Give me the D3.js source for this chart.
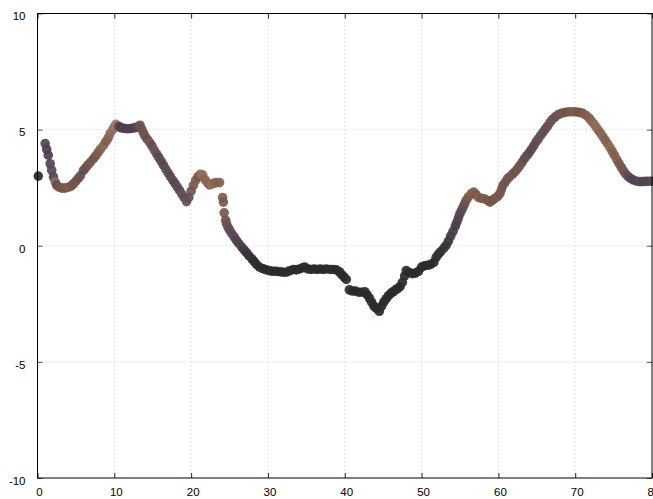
<!DOCTYPE html>
<html>
<head>
<meta charset="utf-8">
<script src="https://cdn.jsdelivr.net/npm/d3@7"></script>
<style>
  html, body { margin: 0; padding: 0; background: #fff; }
  svg { display: block; }
  .tick text { font-family: "Liberation Sans", Arial, Helvetica, sans-serif; font-size: 11.5px; fill: #000; }
</style>
</head>
<body>
<svg id="chart" width="653" height="499"></svg>
<script>
// Axis ranges and tick labels
const xTicks = [0, 10, 20, 30, 40, 50, 60, 70, 80];
const yTicks = [-10, -5, 0, 5, 10];

// Trajectory samples: position and a shade value per point
const xs = [
  0.1,
  1.0, 1.2, 1.4, 1.65, 1.85, 2.08, 2.3, 2.5, 2.8, 3.17, 3.5, 3.8, 4.1, 4.4, 4.7,
  5.0, 5.3, 5.6, 6.0, 6.3, 6.6, 6.9, 7.3, 7.6, 7.9, 8.2, 8.6, 8.9, 9.2, 9.45, 9.8, 10.0, 10.2,
  10.6, 10.9, 11.2, 11.6, 11.9, 12.2, 12.5, 12.8, 13.1, 13.35,
  13.6, 13.8, 14.0, 14.3, 14.6, 14.9, 15.2, 15.5, 15.8, 16.1, 16.4, 16.7, 17.0, 17.3, 17.6, 17.9, 18.2, 18.5, 18.8, 19.1, 19.4,
  19.7, 20.0, 20.3, 20.6, 20.9, 21.2, 21.5, 21.8, 22.1, 22.4, 22.7, 23.0, 23.3, 23.7,
  24.1, 24.2, 24.3, 24.5, 24.6, 24.8, 25.0, 25.3, 25.6, 25.9, 26.2, 26.6, 26.9, 27.2, 27.5, 27.9, 28.2, 28.5,
  28.9, 29.4, 29.8, 30.3, 30.7, 31.1, 31.6, 32.0, 32.4, 32.8, 33.3, 33.7, 34.1, 34.5, 34.8, 35.2, 35.6, 36.0, 36.4, 36.8, 37.2, 37.6, 38.1, 38.5, 38.9, 39.3, 39.6, 39.9, 40.2,
  40.6, 41.0, 41.4, 41.8, 42.2, 42.6, 42.9, 43.2, 43.5, 43.8, 44.1, 44.5, 44.8, 45.1, 45.4, 45.7, 46.0, 46.3, 46.6, 46.9, 47.2, 47.5, 47.8, 48.0,
  48.4, 48.8, 49.2, 49.6, 50.0, 50.4, 50.8, 51.2, 51.6, 51.9, 52.2, 52.5, 52.9, 53.2, 53.5, 53.8, 54.1, 54.4, 54.6, 54.8, 55.0, 55.2, 55.4, 55.6, 55.8, 56.1, 56.5, 56.8,
  57.1, 57.4, 57.8, 58.2, 58.6, 58.9, 59.2, 59.5, 59.9, 60.2, 60.4, 60.6, 60.9, 61.2, 61.5, 61.9, 62.2, 62.5, 62.8, 63.1, 63.4, 63.7, 64.0, 64.3, 64.6, 64.9, 65.2, 65.5, 65.8, 66.1, 66.4, 66.7, 67.0, 67.4, 67.8,
  68.2, 68.6, 69.0, 69.4, 69.8, 70.2, 70.6, 71.0, 71.4, 71.8, 72.1, 72.4, 72.7, 73.0, 73.3, 73.6, 73.9, 74.2, 74.5, 74.8, 75.1, 75.4, 75.7, 76.0, 76.3, 76.6, 76.9, 77.2, 77.6, 78.0, 78.4, 78.8, 79.2, 79.6, 80.0
];
const ys = [
  3.0,
  4.4, 4.15, 3.9, 3.53, 3.25, 2.96, 2.75, 2.6, 2.52, 2.48, 2.48, 2.5, 2.53, 2.58, 2.67,
  2.78, 2.9, 3.02, 3.25, 3.37, 3.49, 3.6, 3.75, 3.88, 4.02, 4.16, 4.32, 4.48, 4.64, 4.83, 5.0, 5.12, 5.23,
  5.14, 5.08, 5.06, 5.04, 5.04, 5.05, 5.07, 5.09, 5.13, 5.19,
  5.0, 4.85, 4.72, 4.58, 4.45, 4.3, 4.12, 3.96, 3.8, 3.64, 3.47, 3.3, 3.14, 2.98, 2.83, 2.68, 2.53, 2.38, 2.22, 2.07, 1.9,
  2.08, 2.35, 2.6, 2.82, 2.98, 3.08, 3.05, 2.85, 2.72, 2.62, 2.65, 2.7, 2.72, 2.72,
  2.08, 1.88, 1.42, 1.1, 0.95, 0.8, 0.68, 0.52, 0.38, 0.23, 0.1, -0.06, -0.18, -0.3, -0.42, -0.56, -0.68, -0.8,
  -0.92, -0.99, -1.04, -1.08, -1.1, -1.1, -1.12, -1.14, -1.14, -1.08, -1.02, -1.04, -1.0, -0.95, -0.92, -1.0, -1.02, -1.0, -1.02, -1.0, -1.02, -1.0, -1.02, -1.02, -1.04, -1.12, -1.24, -1.34, -1.45,
  -1.9, -1.95, -1.95, -2.0, -2.0, -1.98, -2.1, -2.25, -2.43, -2.6, -2.7, -2.82, -2.6, -2.42, -2.28, -2.15, -2.05, -1.98, -1.9, -1.84, -1.76, -1.58, -1.3, -1.07,
  -1.15, -1.2, -1.18, -1.1, -0.92, -0.86, -0.84, -0.8, -0.72, -0.5, -0.36, -0.25, -0.1, 0.02, 0.2, 0.42, 0.62, 0.85, 1.02, 1.2, 1.38, 1.52, 1.66, 1.8, 1.95, 2.1, 2.25, 2.31,
  2.2, 2.08, 2.04, 2.02, 1.95, 1.88, 1.95, 2.03, 2.12, 2.24, 2.42, 2.6, 2.74, 2.89, 2.98, 3.1, 3.2, 3.32, 3.45, 3.6, 3.75, 3.88, 4.0, 4.15, 4.3, 4.47, 4.6, 4.75, 4.88, 5.02, 5.15, 5.3, 5.43, 5.55, 5.65,
  5.7, 5.74, 5.76, 5.77, 5.77, 5.76, 5.74, 5.7, 5.62, 5.5, 5.38, 5.26, 5.12, 4.98, 4.85, 4.7, 4.55, 4.4, 4.25, 4.08, 3.9, 3.72, 3.55, 3.38, 3.22, 3.08, 2.98, 2.9, 2.83, 2.78, 2.76, 2.76, 2.77, 2.78, 2.78
];
const shade = [
  0.02,
  0.5, 0.45, 0.45, 0.5, 0.55, 0.5, 0.85, 0.6, 0.7, 0.72, 0.75, 0.72, 0.8, 0.75, 0.7,
  0.72, 0.68, 0.65, 0.6, 0.65, 0.7, 0.75, 0.7, 0.72, 0.78, 0.8, 0.85, 0.78, 0.8, 0.85, 0.88, 0.92, 0.95,
  0.5, 0.45, 0.48, 0.45, 0.5, 0.48, 0.45, 0.5, 0.55, 0.7,
  0.65, 0.7, 0.72, 0.62, 0.75, 0.58, 0.68, 0.65, 0.55, 0.58, 0.52, 0.58, 0.6, 0.55, 0.6, 0.52, 0.6, 0.55, 0.65, 0.6, 0.65,
  0.62, 0.7, 0.75, 0.78, 0.72, 0.85, 0.9, 0.82, 0.85, 0.8, 0.88, 0.85, 0.82, 0.8,
  0.78, 0.75, 0.74, 0.7, 0.68, 0.65, 0.6, 0.58, 0.55, 0.5, 0.48, 0.45, 0.4, 0.35, 0.3, 0.2, 0.12, 0.08,
  0.05, 0.03, 0.02, 0.02, 0.03, 0.02, 0.03, 0.02, 0.03, 0.04, 0.03, 0.02, 0.03, 0.04, 0.03, 0.02, 0.03, 0.02, 0.03, 0.04, 0.03, 0.02, 0.03, 0.04, 0.03, 0.02, 0.03, 0.04, 0.05,
  0.03, 0.04, 0.03, 0.02, 0.04, 0.03, 0.02, 0.03, 0.04, 0.03, 0.02, 0.03, 0.04, 0.03, 0.02, 0.04, 0.03, 0.03, 0.02, 0.04, 0.03, 0.02, 0.03, 0.04,
  0.03, 0.02, 0.03, 0.04, 0.03, 0.05, 0.04, 0.06, 0.08, 0.1, 0.15, 0.2, 0.25, 0.3, 0.35, 0.38, 0.4, 0.42, 0.45, 0.48, 0.5, 0.55, 0.6, 0.65, 0.7, 0.75, 0.78, 0.8,
  0.75, 0.8, 0.75, 0.78, 0.72, 0.75, 0.7, 0.72, 0.75, 0.7, 0.72, 0.7, 0.68, 0.7, 0.72, 0.7, 0.68, 0.72, 0.7, 0.65, 0.6, 0.62, 0.6, 0.55, 0.58, 0.6, 0.62, 0.65, 0.62, 0.6, 0.62, 0.65, 0.68, 0.65, 0.68,
  0.7, 0.72, 0.7, 0.75, 0.78, 0.75, 0.72, 0.75, 0.78, 0.8, 0.82, 0.85, 0.88, 0.85, 0.82, 0.85, 0.8, 0.82, 0.85, 0.8, 0.78, 0.8, 0.75, 0.72, 0.7, 0.65, 0.6, 0.55, 0.5, 0.5, 0.55, 0.5, 0.52, 0.5, 0.55
];

const points = xs.map((x, i) => ({ x, y: ys[i], s: shade[i] }));

const svg = d3.select("#chart");
const x0 = 37.5, x1 = 652;
const y0 = 13.5, y1 = 478;

const x = d3.scaleLinear().domain([0, 80]).range([x0, x1]);
const y = d3.scaleLinear().domain([-10, 10]).range([y1, y0]);

const colour = d3.scaleLinear()
  .domain([0, 0.35, 0.55, 0.75, 1])
  .range(["#262b25", "#3d3540", "#584755", "#7a5848", "#a88068"]);

// plain hyphen-minus labels
const label = d => String(d);

// dotted grid
const grid = svg.append("g");
grid.selectAll("line.gx").data(xTicks.slice(1, -1)).join("line")
  .attr("x1", d => x(d)).attr("x2", d => x(d))
  .attr("y1", y0).attr("y2", y1)
  .attr("stroke", "#c8c8c8").attr("stroke-width", 1)
  .attr("stroke-dasharray", "1,3");
grid.selectAll("line.gy").data(yTicks.slice(1, -1)).join("line")
  .attr("x1", x0).attr("x2", x1)
  .attr("y1", d => y(d)).attr("y2", d => y(d))
  .attr("stroke", "#c8c8c8").attr("stroke-width", 1)
  .attr("stroke-dasharray", "1,3");

// points
svg.append("g").selectAll("circle").data(points).join("circle")
  .attr("cx", d => x(d.x))
  .attr("cy", d => y(d.y))
  .attr("r", 4.8)
  .attr("fill", d => colour(d.s))
  .attr("fill-opacity", 0.92);

// axes with inward ticks on all four sides
const tickLen = 5;
svg.append("g").attr("transform", `translate(0,${y1})`)
  .call(d3.axisBottom(x).tickValues(xTicks).tickFormat(label).tickSizeInner(-tickLen).tickSizeOuter(0).tickPadding(10))
  .call(g => g.select(".domain").remove())
  .call(g => g.selectAll(".tick line").attr("stroke", "#222"))
  .call(g => g.selectAll(".tick text").attr("dx", "1.5"));
svg.append("g").attr("transform", `translate(0,${y0})`)
  .call(d3.axisTop(x).tickValues(xTicks).tickSizeInner(-tickLen).tickSizeOuter(0).tickFormat(""))
  .call(g => g.select(".domain").remove())
  .call(g => g.selectAll(".tick line").attr("stroke", "#222"));
svg.append("g").attr("transform", `translate(${x0},0)`)
  .call(d3.axisLeft(y).tickValues(yTicks).tickFormat(label).tickSizeInner(-tickLen).tickSizeOuter(0).tickPadding(12))
  .call(g => g.select(".domain").remove())
  .call(g => g.selectAll(".tick line").attr("stroke", "#555"))
  .call(g => g.selectAll(".tick text").attr("dy", "0.55em"));
svg.append("g").attr("transform", `translate(${x1},0)`)
  .call(d3.axisRight(y).tickValues(yTicks).tickSizeInner(-tickLen).tickSizeOuter(0).tickFormat(""))
  .call(g => g.select(".domain").remove())
  .call(g => g.selectAll(".tick line").attr("stroke", "#555"));

// frame
svg.append("rect")
  .attr("x", x0).attr("y", y0)
  .attr("width", x1 - x0).attr("height", y1 - y0)
  .attr("fill", "none").attr("stroke", "#000").attr("stroke-width", 1);
</script>
</body>
</html>
